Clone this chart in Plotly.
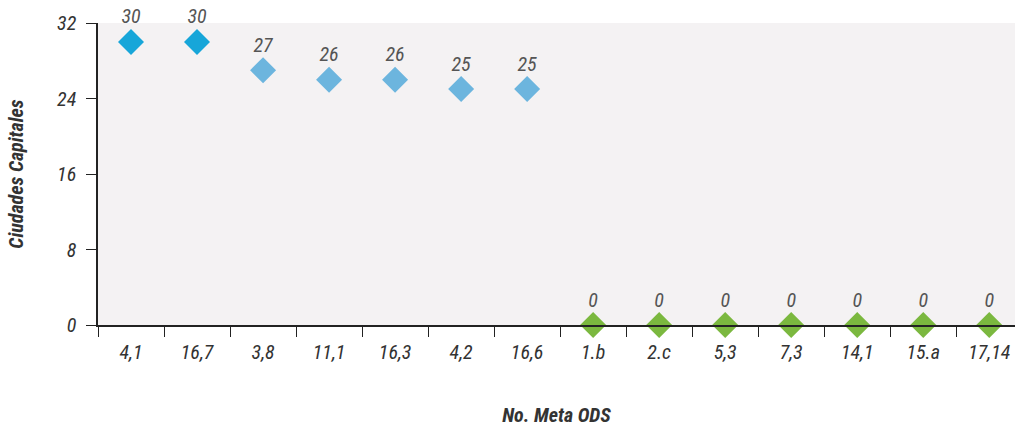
import plotly.graph_objects as go

metas = ["4,1", "16,7", "3,8", "11,1", "16,3", "4,2", "16,6",
         "1.b", "2.c", "5,3", "7,3", "14,1", "15.a", "17,14"]
ciudades = [30, 30, 27, 26, 26, 25, 25, 0, 0, 0, 0, 0, 0, 0]
colores = ["#17a6d9", "#17a6d9", "#6cb5de", "#6cb5de", "#6cb5de", "#6cb5de", "#6cb5de",
           "#7bb83f", "#7bb83f", "#7bb83f", "#7bb83f", "#7bb83f", "#7bb83f", "#7bb83f"]

FONT = "Liberation Sans Narrow, Roboto Condensed, Arial Narrow, Liberation Sans, sans-serif"

fig = go.Figure(go.Scatter(
    x=metas,
    y=ciudades,
    mode="markers+text",
    marker=dict(symbol="diamond", size=20, color=colores),
    text=[str(v) for v in ciudades],
    textposition="top center",
    textfont=dict(family=FONT, size=20, color="#555555", style="italic"),
    cliponaxis=False,
    showlegend=False,
))

fig.update_layout(
    width=1015, height=428,
    margin=dict(l=98, r=0, t=23, b=103),
    paper_bgcolor="white",
    plot_bgcolor="#f4f2f3",
    font=dict(family=FONT, color="#333333"),
    xaxis=dict(
        type="category",
        range=[-0.5, 13.39],
        automargin=False,
        tickson="boundaries",
        ticks="outside", ticklen=10, tickcolor="#222222",
        showline=True, linecolor="#222222", linewidth=1.5,
        showgrid=False,
        ticklabelstandoff=8,
        tickfont=dict(family=FONT, size=20, color="#333333", style="italic"),
        title=dict(text="<b>No. Meta ODS</b>", standoff=45,
                   font=dict(family=FONT, size=20, color="#333333", style="italic")),
    ),
    yaxis=dict(
        range=[0, 32],
        tickvals=[0, 8, 16, 24, 32],
        automargin=False,
        ticks="outside", ticklen=10, tickcolor="#222222",
        showline=True, linecolor="#222222", linewidth=1.5,
        showgrid=False, zeroline=False,
        ticklabelstandoff=6,
        tickfont=dict(family=FONT, size=20, color="#333333", style="italic"),
        title=dict(text="<b>Ciudades Capitales</b>", standoff=28,
                   font=dict(family=FONT, size=20, color="#333333", style="italic")),
    ),
)

# drop the default 8px body margin so the figure fills the window exactly
fig.write_html("out.html", config={"displayModeBar": False},
               post_script="document.body.style.margin = '0px';")
